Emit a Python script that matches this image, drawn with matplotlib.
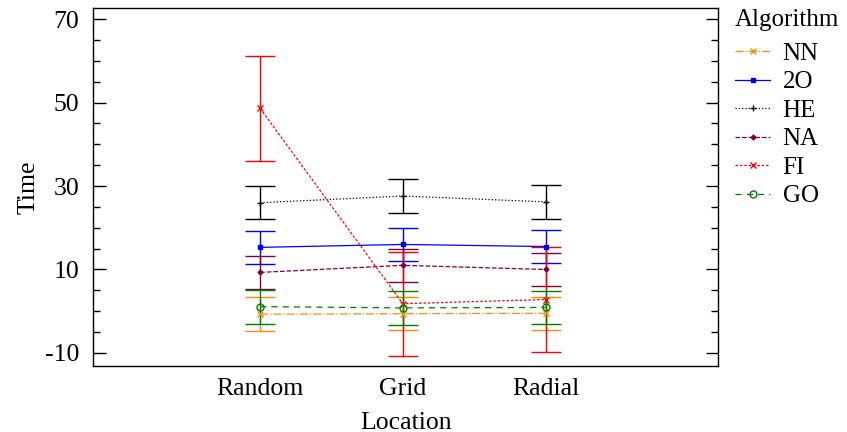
import matplotlib.pyplot as plt
from matplotlib.ticker import FixedLocator, MultipleLocator

plt.rcParams['font.family'] = ['Liberation Serif', 'DejaVu Serif']
plt.rcParams['axes.unicode_minus'] = False

locations = ['Random', 'Grid', 'Radial']
algorithms = ['NN', '2O', 'HE', 'NA', 'FI', 'GO']

# mean time per location, and half-width of the error bar
nn_mean = [-0.7, -0.6, -0.5]
nn_err = [4.0, 4.0, 4.0]
o2_mean = [15.3, 16.0, 15.5]
o2_err = [4.0, 3.9, 4.0]
he_mean = [26.0, 27.6, 26.2]
he_err = [4.0, 4.0, 4.0]
na_mean = [9.3, 11.0, 10.0]
na_err = [4.0, 4.0, 3.9]
fi_mean = [48.6, 1.8, 2.8]
fi_err = [12.5, 12.5, 12.5]
go_mean = [1.1, 0.8, 0.9]
go_err = [4.1, 4.0, 4.0]

styles = {
    'NN': dict(color='#ff8c00', ls='-.', marker='x', ms=4, mfc='#ff8c00'),
    '2O': dict(color='#0000ff', ls='-', marker='s', ms=3.5, mfc='#0000ff'),
    'HE': dict(color='black', ls=':', marker='+', ms=5, mfc='black'),
    'NA': dict(color='#800040', ls='--', marker='D', ms=2.5, mfc='#800040'),
    'FI': dict(color='#ff0000', ls=(0, (2, 1.5)), marker='x', ms=4, mfc='#ff0000'),
    'GO': dict(color='#008000', ls=(0, (5, 4)), marker='o', ms=5, mfc='none'),
}

means = {'NN': nn_mean, '2O': o2_mean, 'HE': he_mean,
         'NA': na_mean, 'FI': fi_mean, 'GO': go_mean}
errs = {'NN': nn_err, '2O': o2_err, 'HE': he_err,
        'NA': na_err, 'FI': fi_err, 'GO': go_err}

fig = plt.figure(figsize=(8.47, 4.32), dpi=100)
ax = fig.add_axes([0.110, 0.153, 0.738, 0.828])

x = [1, 2, 3]
for alg in algorithms:
    st = styles[alg]
    ax.errorbar(x, means[alg], yerr=errs[alg], color=st['color'], ls=st['ls'],
                lw=0.9, marker=st['marker'], ms=st['ms'], mfc=st['mfc'],
                mec=st['color'], mew=1, elinewidth=1, capsize=11, capthick=1,
                label=alg)

ax.set_xlim(-0.17, 4.21)
ax.set_ylim(-13.1, 72.6)
ax.set_xticks(x)
ax.set_xticklabels(locations)
ax.tick_params(axis='x', length=0, labelsize=18.5, pad=9)
ax.yaxis.set_major_locator(FixedLocator([-10, 10, 30, 50, 70]))
ax.yaxis.set_minor_locator(MultipleLocator(5))
ax.tick_params(axis='y', which='both', direction='in', left=True, right=True,
               labelsize=18.5, width=1)
ax.tick_params(axis='y', which='major', length=9, pad=10)
ax.tick_params(axis='y', which='minor', length=5)
ax.set_xlabel('Location', fontsize=18.5, labelpad=8)
ax.set_ylabel('Time', fontsize=18.5, labelpad=4)
for sp in ax.spines.values():
    sp.set_linewidth(1)

handles, labels = ax.get_legend_handles_labels()
handles = [h[0] for h in handles]
leg = fig.legend(handles, labels, title='Algorithm', loc='upper left',
                 bbox_to_anchor=(0.862, 0.99), frameon=False, fontsize=18,
                 title_fontsize=18, handlelength=1.4, labelspacing=0.24,
                 handletextpad=0.5, borderaxespad=0.0, borderpad=0.2)
leg._legend_box.align = 'left'
leg._legend_box.sep = 8

fig.savefig('out.png', dpi=100)
